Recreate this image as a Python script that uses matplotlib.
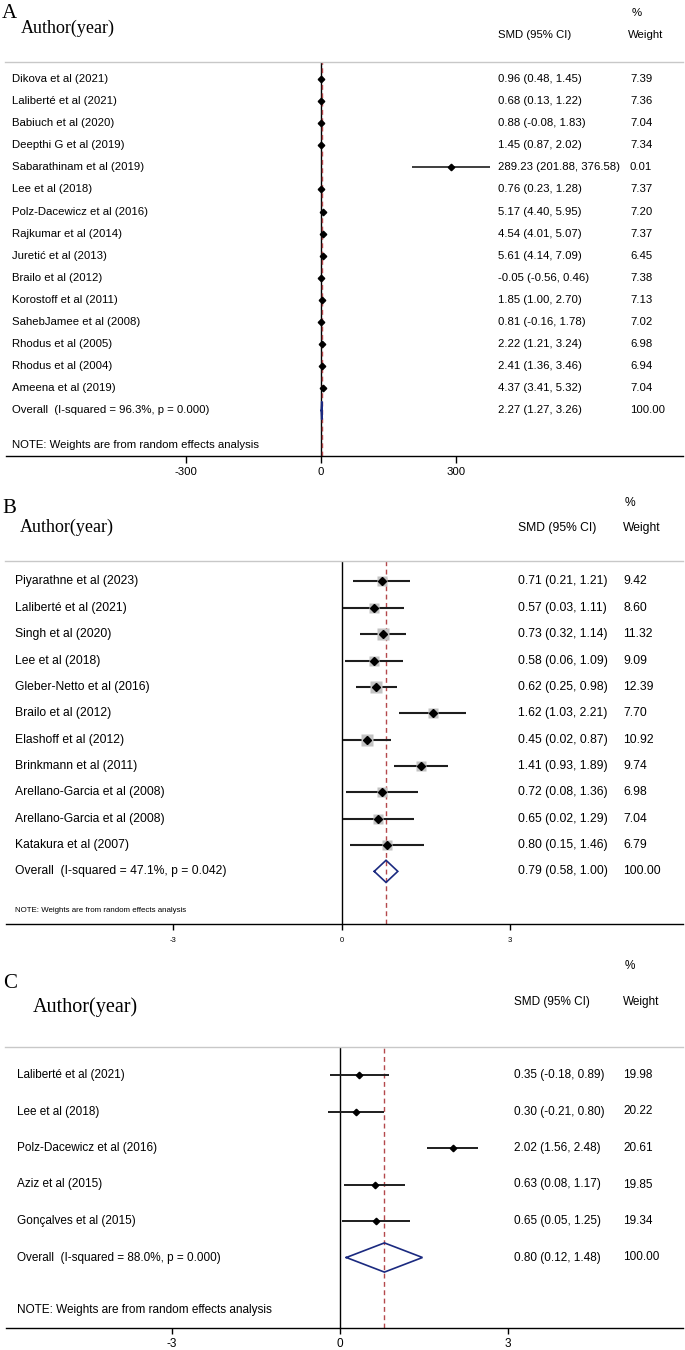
import matplotlib
matplotlib.use("Agg")
import matplotlib.pyplot as plt
import matplotlib.transforms as mtransforms

# ---------------- data ----------------
names_a = ["Dikova et al (2021)", "Laliberté et al (2021)", "Babiuch et al (2020)",
           "Deepthi G et al (2019)", "Sabarathinam et al (2019)", "Lee et al (2018)",
           "Polz-Dacewicz et al (2016)", "Rajkumar et al (2014)", "Juretić et al (2013)",
           "Brailo et al (2012)", "Korostoff et al (2011)", "SahebJamee et al (2008)",
           "Rhodus et al (2005)", "Rhodus et al (2004)", "Ameena et al (2019)"]
smd_a = [0.96, 0.68, 0.88, 1.45, 289.23, 0.76, 5.17, 4.54, 5.61, -0.05, 1.85, 0.81, 2.22, 2.41, 4.37]
lo_a = [0.48, 0.13, -0.08, 0.87, 201.88, 0.23, 4.40, 4.01, 4.14, -0.56, 1.00, -0.16, 1.21, 1.36, 3.41]
hi_a = [1.45, 1.22, 1.83, 2.02, 376.58, 1.28, 5.95, 5.07, 7.09, 0.46, 2.70, 1.78, 3.24, 3.46, 5.32]
wt_a = [7.39, 7.36, 7.04, 7.34, 0.01, 7.37, 7.20, 7.37, 6.45, 7.38, 7.13, 7.02, 6.98, 6.94, 7.04]
overall_a = [2.27, 1.27, 3.26]
het_a = ["96.3%", "0.000"]
ticks_a = [-300, 0, 300]

names_b = ["Piyarathne et al (2023)", "Laliberté et al (2021)", "Singh et al (2020)",
           "Lee et al (2018)", "Gleber-Netto et al (2016)", "Brailo et al (2012)",
           "Elashoff et al (2012)", "Brinkmann et al (2011)", "Arellano-Garcia et al (2008)",
           "Arellano-Garcia et al (2008)", "Katakura et al (2007)"]
smd_b = [0.71, 0.57, 0.73, 0.58, 0.62, 1.62, 0.45, 1.41, 0.72, 0.65, 0.80]
lo_b = [0.21, 0.03, 0.32, 0.06, 0.25, 1.03, 0.02, 0.93, 0.08, 0.02, 0.15]
hi_b = [1.21, 1.11, 1.14, 1.09, 0.98, 2.21, 0.87, 1.89, 1.36, 1.29, 1.46]
wt_b = [9.42, 8.60, 11.32, 9.09, 12.39, 7.70, 10.92, 9.74, 6.98, 7.04, 6.79]
overall_b = [0.79, 0.58, 1.00]
het_b = ["47.1%", "0.042"]
ticks_b = [-3, 0, 3]

names_c = ["Laliberté et al (2021)", "Lee et al (2018)", "Polz-Dacewicz et al (2016)",
           "Aziz et al (2015)", "Gonçalves et al (2015)"]
smd_c = [0.35, 0.30, 2.02, 0.63, 0.65]
lo_c = [-0.18, -0.21, 1.56, 0.08, 0.05]
hi_c = [0.89, 0.80, 2.48, 1.17, 1.25]
wt_c = [19.98, 20.22, 20.61, 19.85, 19.34]
overall_c = [0.80, 0.12, 1.48]
het_c = ["88.0%", "0.000"]
ticks_c = [-3, 0, 3]

# ---------------- layout ----------------
W, H = 685, 1350
SANS = ["Liberation Sans", "DejaVu Sans"]
SERIF = ["Liberation Serif", "DejaVu Serif"]
NAVY = "#1b2a80"
RED = "#b4484c"
SEP = "#c8c8c8"

fig = plt.figure(figsize=(W / 100, H / 100), dpi=100)


def fx(px):
    return px / W


def fy(py):
    return 1 - py / H


def panel(letter, names, est, lo, hi, wts, overall, het, ticks, c):
    top, bot = c["sep"], c["axis"]
    ax = fig.add_axes([0, fy(bot), 1, (bot - top) / H])
    x0, ppu = c["x0"], c["ppu"]
    ax.set_xlim((0 - x0) / ppu, (W - x0) / ppu)
    r0, st = c["row0"], c["step"]
    ax.set_ylim((bot - r0) / st, (top - r0) / st)
    for s in ["left", "right"]:
        ax.spines[s].set_visible(False)
    ax.spines["top"].set_color(SEP)
    ax.spines["top"].set_linewidth(1.0)
    ax.spines["top"].set_bounds((5 - x0) / ppu, (683 - x0) / ppu)
    ax.spines["bottom"].set_linewidth(1.0)
    ax.spines["bottom"].set_bounds((6 - x0) / ppu, (683 - x0) / ppu)
    ax.set_yticks([])
    ax.set_xticks(ticks)
    ax.set_xticklabels([str(t) for t in ticks], fontfamily=SANS, fontsize=c["tick_fs"])
    ax.tick_params(axis="x", direction="out", length=c["tick_len"], width=1.0,
                   pad=c["tick_pad"], colors="black")

    ax.axvline(0, color="black", lw=1.0, zorder=2)
    ax.axvline(overall[0], color=RED, lw=1.0, ls=(0, (3.5, 2.5)), zorder=2)

    tr = mtransforms.blended_transform_factory(ax.transAxes, ax.transData)
    n = len(names)
    for i in range(n):
        ax.plot([lo[i], hi[i]], [i, i], color="#1e1e1e", lw=c["lw"], zorder=3,
                solid_capstyle="butt")
        if c["box"]:
            ax.plot(est[i], i, marker="s", ms=2.5 * wts[i] ** 0.5, color="#c2c2c2",
                    mec="none", zorder=3.5)
        ax.plot(est[i], i, marker="D", ms=c["ms"], color="black", mec="black", zorder=4)
        ax.text(fx(c["lab_x"]), i, names[i], transform=tr, fontfamily=SANS,
                fontsize=c["fs"], va="center", ha="left")
        ax.text(fx(c["smd_x"]), i, "%.2f (%.2f, %.2f)" % (est[i], lo[i], hi[i]),
                transform=tr, fontfamily=SANS, fontsize=c["fs"], va="center", ha="left")
        ax.text(fx(c["wt_x"]), i, "%.2f" % wts[i], transform=tr, fontfamily=SANS,
                fontsize=c["fs"], va="center", ha="left")

    # overall diamond
    e, l, h = overall
    d = c["dia_h"]
    ax.plot([l, e, h, e, l], [n, n - d, n, n + d, n], color=NAVY, lw=1.2, zorder=5,
            solid_joinstyle="miter")
    ax.text(fx(c["lab_x"]), n, "Overall  (I-squared = %s, p = %s)" % (het[0], het[1]),
            transform=tr, fontfamily=SANS, fontsize=c["fs"], va="center", ha="left")
    ax.text(fx(c["smd_x"]), n, "%.2f (%.2f, %.2f)" % (e, l, h), transform=tr,
            fontfamily=SANS, fontsize=c["fs"], va="center", ha="left")
    ax.text(fx(c["wt_x"]), n, "100.00", transform=tr, fontfamily=SANS,
            fontsize=c["fs"], va="center", ha="left")
    ax.text(fx(c["lab_x"]), (c["note_y"] - r0) / st, "NOTE: Weights are from random effects analysis",
            transform=tr, fontfamily=SANS, fontsize=c["note_fs"], va="center", ha="left")

    # headers
    fig.text(fx(c["letter"][0]), fy(c["letter"][1]), letter, fontfamily=SERIF,
             fontsize=c["letter_fs"], va="center", ha="left")
    fig.text(fx(c["author"][0]), fy(c["author"][1]), "Author(year)", fontfamily=SERIF,
             fontsize=c["author_fs"], va="center", ha="left")
    fig.text(fx(c["pct"][0]), fy(c["pct"][1]), "%", fontfamily=SANS, fontsize=c["fs"],
             va="center", ha="left")
    fig.text(fx(c["smd_x"]), fy(c["head_y"]), "SMD (95% CI)", fontfamily=SANS,
             fontsize=c["fs"], va="center", ha="left")
    fig.text(fx(c["wth_x"]), fy(c["head_y"]), "Weight", fontfamily=SANS,
             fontsize=c["fs"], va="center", ha="left")
    return ax


cfg_a = dict(sep=62, axis=456, row0=79, step=22.1, x0=320.7, ppu=0.45,
             lab_x=12, smd_x=498, wt_x=630, wth_x=628, fs=8.2,
             note_y=445, note_fs=8.2, tick_fs=8.2, tick_len=5, tick_pad=3.2,
             ms=3.3, lw=1.2, box=False, dia_h=0.41,
             letter=(2, 13), letter_fs=15, author=(21, 28), author_fs=13,
             pct=(632, 13), head_y=35)
cfg_b = dict(sep=561, axis=924, row0=581.5, step=26.35, x0=341.7, ppu=56.1,
             lab_x=15, smd_x=518, wt_x=623, wth_x=623, fs=8.7,
             note_y=911, note_fs=5.7, tick_fs=5.5, tick_len=4, tick_pad=5.5,
             ms=3.6, lw=1.5, box=True, dia_h=0.42,
             letter=(2, 508), letter_fs=15, author=(20, 527), author_fs=13,
             pct=(625, 503), head_y=528)
cfg_c = dict(sep=1047, axis=1328, row0=1075, step=36.5, x0=339.6, ppu=56.0,
             lab_x=17, smd_x=514, wt_x=623, wth_x=623, fs=8.5,
             note_y=1310, note_fs=8.5, tick_fs=8.5, tick_len=4.5, tick_pad=2.5,
             ms=3.3, lw=1.4, box=False, dia_h=0.40,
             letter=(3, 983), letter_fs=15, author=(33, 1007), author_fs=14.5,
             pct=(625, 966), head_y=1002)

panel("A", names_a, smd_a, lo_a, hi_a, wt_a, overall_a, het_a, ticks_a, cfg_a)
panel("B", names_b, smd_b, lo_b, hi_b, wt_b, overall_b, het_b, ticks_b, cfg_b)
panel("C", names_c, smd_c, lo_c, hi_c, wt_c, overall_c, het_c, ticks_c, cfg_c)

fig.savefig("out.png", dpi=100, facecolor="white")
